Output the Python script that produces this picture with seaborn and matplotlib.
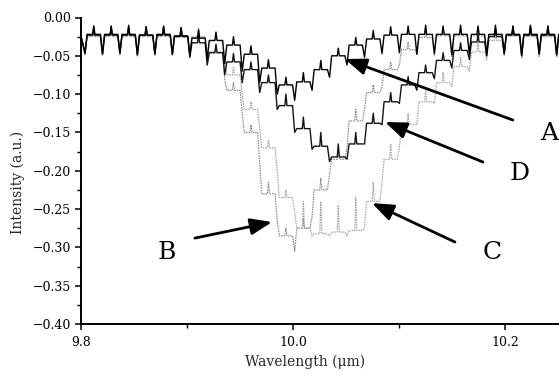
import numpy as np
import pandas as pd
import matplotlib
matplotlib.use("Agg")
import matplotlib.pyplot as plt
import seaborn as sns
from matplotlib.ticker import MultipleLocator, FuncFormatter

# ---- data ----
# wavelengths (um) of the periodic comb features
dip_wl = [9.8038, 9.8203, 9.8367, 9.8532, 9.8697, 9.8862, 9.9027, 9.9191,
          9.9356, 9.9521, 9.9686, 9.9851, 10.0016, 10.0180, 10.0345, 10.0510,
          10.0675, 10.0840, 10.1004, 10.1169, 10.1334, 10.1499, 10.1664, 10.1828,
          10.1993, 10.2158, 10.2323, 10.2488]

# curve A
A_dip = [-0.046, -0.047, -0.046, -0.048, -0.047, -0.048, -0.050, -0.054, -0.060, -0.070,
         -0.085, -0.100, -0.108, -0.095, -0.078, -0.062, -0.052, -0.047, -0.046, -0.048,
         -0.047, -0.049, -0.047, -0.048, -0.046, -0.049, -0.047, -0.048]
A_top = [-0.022, -0.022, -0.022, -0.023, -0.022, -0.024, -0.027, -0.030, -0.036, -0.048,
         -0.066, -0.088, -0.084, -0.068, -0.050, -0.036, -0.028, -0.023, -0.022, -0.022,
         -0.022, -0.022, -0.022, -0.022, -0.022, -0.022, -0.022, -0.022]
A_peak = [-0.011, -0.011, -0.010, -0.012, -0.011, -0.013, -0.016, -0.019, -0.025, -0.037,
          -0.055, -0.078, -0.072, -0.056, -0.040, -0.026, -0.017, -0.012, -0.011, -0.010,
          -0.011, -0.010, -0.011, -0.010, -0.011, -0.010, -0.011, -0.011]

# curve D
D_dip = [-0.047, -0.048, -0.047, -0.049, -0.048, -0.048, -0.052, -0.062, -0.075, -0.085,
         -0.098, -0.120, -0.150, -0.172, -0.188, -0.185, -0.165, -0.140, -0.112, -0.095,
         -0.080, -0.066, -0.055, -0.050, -0.048, -0.050, -0.048, -0.049]
D_top = [-0.023, -0.023, -0.023, -0.023, -0.023, -0.025, -0.033, -0.046, -0.058, -0.068,
         -0.085, -0.115, -0.145, -0.168, -0.182, -0.165, -0.138, -0.110, -0.088, -0.072,
         -0.056, -0.043, -0.032, -0.025, -0.023, -0.023, -0.023, -0.023]
D_peak = [-0.012, -0.012, -0.012, -0.012, -0.012, -0.014, -0.022, -0.035, -0.047, -0.058,
          -0.075, -0.100, -0.130, -0.150, -0.165, -0.150, -0.125, -0.098, -0.077, -0.062,
          -0.046, -0.033, -0.022, -0.015, -0.012, -0.012, -0.012, -0.012]

# curve B
B_dip = [-0.048, -0.049, -0.048, -0.050, -0.049, -0.049, -0.048, -0.055, -0.080, -0.125,
         -0.190, -0.265, -0.305, -0.260, -0.205, -0.170, -0.120, -0.090, -0.062, -0.048,
         -0.050, -0.051, -0.049, -0.050, -0.049, -0.052, -0.050, -0.051]
B_top = [-0.024, -0.024, -0.024, -0.024, -0.024, -0.024, -0.026, -0.045, -0.095, -0.150,
         -0.230, -0.285, -0.275, -0.225, -0.185, -0.135, -0.098, -0.068, -0.042, -0.026,
         -0.024, -0.024, -0.024, -0.024, -0.024, -0.024, -0.024, -0.024]
B_peak = [-0.013, -0.013, -0.013, -0.013, -0.013, -0.013, -0.016, -0.035, -0.085, -0.140,
          -0.215, -0.275, -0.262, -0.210, -0.170, -0.120, -0.088, -0.058, -0.032, -0.015,
          -0.013, -0.013, -0.013, -0.013, -0.013, -0.013, -0.013, -0.013]

# curve C
C_dip = [-0.049, -0.050, -0.049, -0.051, -0.050, -0.050, -0.049, -0.048, -0.055, -0.100,
         -0.145, -0.200, -0.255, -0.285, -0.285, -0.285, -0.275, -0.215, -0.170, -0.140,
         -0.112, -0.090, -0.070, -0.055, -0.048, -0.053, -0.051, -0.052]
C_top = [-0.025, -0.025, -0.025, -0.025, -0.025, -0.025, -0.025, -0.030, -0.075, -0.120,
         -0.170, -0.235, -0.275, -0.282, -0.280, -0.278, -0.240, -0.185, -0.140, -0.110,
         -0.085, -0.064, -0.045, -0.030, -0.023, -0.025, -0.025, -0.025]
C_peak = [-0.014, -0.014, -0.014, -0.014, -0.014, -0.014, -0.014, -0.020, -0.065, -0.110,
          -0.160, -0.225, -0.240, -0.240, -0.245, -0.235, -0.215, -0.165, -0.125, -0.095,
          -0.072, -0.052, -0.034, -0.020, -0.012, -0.014, -0.014, -0.014]

curve_names = ["B", "C", "D", "A"]
x_ticks = [9.8, 10.0, 10.2]
y_ticks = [0.00, -0.05, -0.10, -0.15, -0.20, -0.25, -0.30, -0.35, -0.40]
x_label = "Wavelength (\u03bcm)"
y_label = "Intensity (a.u.)"

# ---- build the traces (dip -> arch -> spike -> arch -> next dip) ----
def trace(dips, tops, peaks):
    xs, ys = [], []
    n = len(dip_wl)
    for k in range(n):
        d = dip_wl[k]
        p = (dip_wl[k + 1] - d) if k + 1 < n else (d - dip_wl[k - 1])
        if k == 0:
            xs.append(d - 0.25 * p); ys.append(tops[0])
        xs += [d, d + 0.12 * p, d + 0.44 * p, d + 0.5 * p, d + 0.56 * p, d + 0.88 * p]
        ys += [dips[k], tops[k], tops[k], peaks[k], tops[k], tops[k]]
    return xs, ys

series = {"A": (A_dip, A_top, A_peak), "B": (B_dip, B_top, B_peak),
          "C": (C_dip, C_top, C_peak), "D": (D_dip, D_top, D_peak)}
frames = []
for name in curve_names:
    xs, ys = trace(*series[name])
    frames.append(pd.DataFrame({"wl": xs, "I": ys, "curve": name,
                                "order": np.arange(len(xs))}))
df = pd.concat(frames, ignore_index=True)

# ---- plotting ----
sns.set_style("ticks")
plt.rcParams["font.family"] = ["DejaVu Serif"]

fig = plt.figure(figsize=(5.59, 3.77), dpi=100)
ax = fig.add_axes([81 / 559, 1 - 324 / 377, 1 - 81 / 559, (324 - 17.5) / 377])

styles = {"B": dict(color="#8a8a8a", lw=0.9, ls=(0, (1.2, 0.8))),
          "C": dict(color="#a6a6a6", lw=0.9, ls=(0, (1.2, 0.8))),
          "D": dict(color="#151515", lw=1.0, ls="-"),
          "A": dict(color="#000000", lw=1.0, ls="-")}
for name in curve_names:
    st = styles[name]
    sns.lineplot(data=df[df.curve == name], x="wl", y="I", sort=False,
                 estimator=None, ax=ax, color=st["color"], linewidth=st["lw"],
                 linestyle=st["ls"])

ax.set_xlim(9.8, 10.251)
ax.set_ylim(-0.40, 0.0)
ax.set_xticks(x_ticks)
ax.set_yticks(y_ticks)
ax.xaxis.set_minor_locator(MultipleLocator(0.1))
ax.yaxis.set_minor_locator(MultipleLocator(0.025))
ax.xaxis.set_major_formatter(FuncFormatter(lambda v, _: f"{v:.1f}"))
ax.yaxis.set_major_formatter(
    FuncFormatter(lambda v, _: f"{v:.2f}".replace("-", "\u2212") if abs(v) > 1e-9 else "0.00"))
ax.tick_params(axis="both", which="major", direction="out", length=4.5, width=1.1,
               labelsize=9, color="black", labelcolor="black", pad=2.5)
ax.tick_params(axis="x", which="major", pad=4)
ax.tick_params(axis="both", which="minor", direction="out", length=3, width=1.0,
               color="black")
sns.despine(ax=ax)
for s in ("left", "bottom"):
    ax.spines[s].set_linewidth(1.4)
    ax.spines[s].set_color("black")

ax.set_xlabel(x_label, fontsize=10)
ax.set_ylabel(y_label, fontsize=10)
ax.xaxis.set_label_coords((305 - 81) / (559 - 81), -(362 - 324) / (324 - 17.5))
ax.xaxis.label.set_va("center")
ax.yaxis.set_label_coords(-(81 - 18) / (559 - 81), (324 - 182) / (324 - 17.5))
ax.yaxis.label.set_va("center")

# labels + arrows (tail -> tip), positions in data coords
notes = [("A", (10.2415, -0.1508), (10.2075, -0.1338), (10.049, -0.0542)),
         ("D", (10.2142, -0.2030), (10.1792, -0.1886), (10.0868, -0.1364)),
         ("B", (9.8811, -0.3061), (9.9075, -0.2879), (9.9802, -0.2670)),
         ("C", (10.1877, -0.3061), (10.1528, -0.2930), (10.0745, -0.2422))]
for lab, pos, tail, tip in notes:
    ax.text(pos[0], pos[1], lab, fontsize=18, ha="center", va="center",
            color="black", clip_on=False)
    ax.annotate("", xy=tip, xytext=tail,
                arrowprops=dict(arrowstyle="-|>,head_length=0.65,head_width=0.25",
                                mutation_scale=20, lw=2.0, color="black",
                                shrinkA=0, shrinkB=0))

fig.savefig("out.png", dpi=100)
